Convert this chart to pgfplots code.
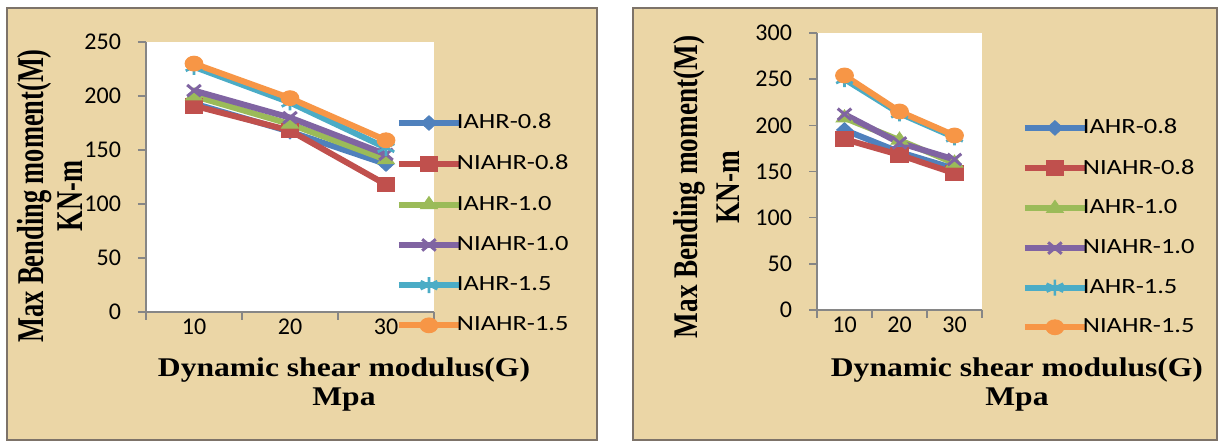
\documentclass[border=0pt]{standalone}
\usepackage{pgfplots}
\pgfplotsset{compat=1.18}
\usepackage{fontspec}
\setmainfont{Liberation Serif}
\newfontfamily\calib{Carlito}
\usepackage{graphicx}

\definecolor{sBlue}{RGB}{79,129,189}
\definecolor{sRed}{RGB}{192,80,77}
\definecolor{sGreen}{RGB}{155,187,89}
\definecolor{sPurple}{RGB}{128,100,162}
\definecolor{sCyan}{RGB}{75,172,198}
\definecolor{sOrange}{RGB}{247,150,70}
\definecolor{papyrus}{RGB}{235,214,166}
\definecolor{framec}{RGB}{125,115,105}
\definecolor{axisgray}{RGB}{134,134,134}

\pgfplotsset{
  mystyle/.style={
    scale only axis,
    clip=false,
    axis x line=bottom, axis y line=left,
    axis line style={axisgray, line width=0.8pt, -},
    axis background/.style={fill=white},
    xmin=5, xmax=35, ymin=0,
    xtick={5,15,25,35}, xticklabels={},
    extra x ticks={10,20,30},
    extra x tick labels={10,20,30},
    extra x tick style={major tick length=0pt},
    tick align=outside,
    major tick length=4pt,
    tick style={axisgray, line width=0.8pt},
    /pgf/number format/assume math mode=true,
    ticklabel style={font=\calib\fontsize{12}{12}\selectfont, text=black},
    yticklabel style={xshift=-5pt},
    legend cell align=left,
    legend image code/.code={\draw[mark repeat=2, mark phase=2, ##1] plot coordinates {(0pt,0pt) (15pt,0pt) (30pt,0pt)};},
    every axis plot/.append style={line width=3pt},
  },
  s1/.style={color=sBlue, mark=diamond*, mark size=3.6pt, mark options={solid, fill=sBlue, xscale=1.45, line width=0.5pt}},
  s2/.style={color=sRed, mark=square*, mark size=3.7pt, mark options={solid, fill=sRed, xscale=1.2, line width=0.5pt}},
  s3/.style={color=sGreen, mark=triangle*, mark size=4pt, mark options={solid, fill=sGreen, xscale=1.2, line width=0.5pt}},
  s4/.style={color=sPurple, mark=x, mark size=4pt, mark options={solid, xscale=1.2, line width=1.5pt}},
  s5/.style={color=sCyan, mark=asterisk, mark size=4pt, mark options={solid, xscale=1.2, line width=1.3pt}},
  s6/.style={color=sOrange, mark=*, mark size=3.7pt, mark options={solid, fill=sOrange, xscale=1.2, line width=0.5pt}},
}

\begin{document}
\begin{tikzpicture}
\path (0pt,0pt) rectangle (611.5pt,221.5pt);
\fill[papyrus] (3.5pt,1.5pt) rectangle (298.5pt,217.5pt);
\draw[framec, line width=1.2pt] (3.5pt,1.5pt) rectangle (298.5pt,217.5pt);
\fill[papyrus] (316.5pt,1.5pt) rectangle (608.5pt,217.5pt);
\draw[framec, line width=1.2pt] (316.5pt,1.5pt) rectangle (608.5pt,217.5pt);

% Left panel
\begin{axis}[mystyle,
  at={(73pt,65.5pt)}, anchor=south west,
  width=144pt, height=135pt,
  ymax=250, ytick={0,50,...,250},
  legend style={draw=none, fill=none, at={(axis description cs:0.868,0.733)}, anchor=north west,
    inner sep=0pt, outer sep=0pt, row sep=11.6pt, column sep=-2.5pt,
    font=\calib\fontsize{10.85}{12}\selectfont, nodes={inner sep=0pt}, cells={anchor=west}},
  xlabel={\scalebox{1.17}[1]{\begin{tabular}{@{}c@{}}Dynamic shear modulus(G)\\Mpa\end{tabular}}},
  xlabel style={at={(axis description cs:0.6875,-0.272)}, anchor=center, inner sep=0pt,
    font=\bfseries\fontsize{13.5}{14.5}\selectfont},
  ylabel={\scalebox{1}[1.43]{\begin{tabular}{@{}c@{}}Max Bending moment(M)\\KN-m\end{tabular}}},
  ylabel style={at={(axis description cs:-0.314,0.43)}, anchor=center, inner sep=0pt,
    font=\bfseries\fontsize{13.2}{13.6}\selectfont},
]
\addplot[s1] coordinates {(10,193) (20,167) (30,137)};
\addlegendentry{\scalebox{1.22}[1]{IAHR-0.8}}
\addplot[s2] coordinates {(10,191) (20,168) (30,118)};
\addlegendentry{\scalebox{1.22}[1]{NIAHR-0.8}}
\addplot[s3] coordinates {(10,200) (20,174) (30,141)};
\addlegendentry{\scalebox{1.22}[1]{IAHR-1.0}}
\addplot[s4] coordinates {(10,205) (20,180) (30,146)};
\addlegendentry{\scalebox{1.22}[1]{NIAHR-1.0}}
\addplot[s5] coordinates {(10,227) (20,194) (30,152)};
\addlegendentry{\scalebox{1.22}[1]{IAHR-1.5}}
\addplot[s6] coordinates {(10,230) (20,198) (30,159)};
\addlegendentry{\scalebox{1.22}[1]{NIAHR-1.5}}
\end{axis}

% Right panel
\begin{axis}[mystyle,
  at={(408.5pt,66.5pt)}, anchor=south west,
  width=82.5pt, height=138.5pt,
  ymax=300, ytick={0,50,...,300},
  legend style={draw=none, fill=none, at={(axis description cs:1.242,0.6895)}, anchor=north west,
    inner sep=0pt, outer sep=0pt, row sep=11.3pt, column sep=-2.5pt,
    font=\calib\fontsize{10.85}{12}\selectfont, nodes={inner sep=0pt}, cells={anchor=west}},
  xlabel={\scalebox{1.17}[1]{\begin{tabular}{@{}c@{}}Dynamic shear modulus(G)\\Mpa\end{tabular}}},
  xlabel style={at={(axis description cs:1.212,-0.271)}, anchor=center, inner sep=0pt,
    font=\bfseries\fontsize{13.5}{14.5}\selectfont},
  ylabel={\scalebox{1}[1.27]{\begin{tabular}{@{}c@{}}Max Bending moment(M)\\KN-m\end{tabular}}},
  ylabel style={at={(axis description cs:-0.648,0.444)}, anchor=center, inner sep=0pt,
    font=\bfseries\fontsize{13.6}{16.5}\selectfont},
]
\addplot[s1] coordinates {(10,195) (20,171) (30,153)};
\addlegendentry{\scalebox{1.22}[1]{IAHR-0.8}}
\addplot[s2] coordinates {(10,185) (20,168) (30,148)};
\addlegendentry{\scalebox{1.22}[1]{NIAHR-0.8}}
\addplot[s3] coordinates {(10,208) (20,184) (30,159)};
\addlegendentry{\scalebox{1.22}[1]{IAHR-1.0}}
\addplot[s4] coordinates {(10,212) (20,181) (30,163)};
\addlegendentry{\scalebox{1.22}[1]{NIAHR-1.0}}
\addplot[s5] coordinates {(10,250) (20,213) (30,187)};
\addlegendentry{\scalebox{1.22}[1]{IAHR-1.5}}
\addplot[s6] coordinates {(10,254) (20,215) (30,189)};
\addlegendentry{\scalebox{1.22}[1]{NIAHR-1.5}}
\end{axis}
\end{tikzpicture}
\end{document}
